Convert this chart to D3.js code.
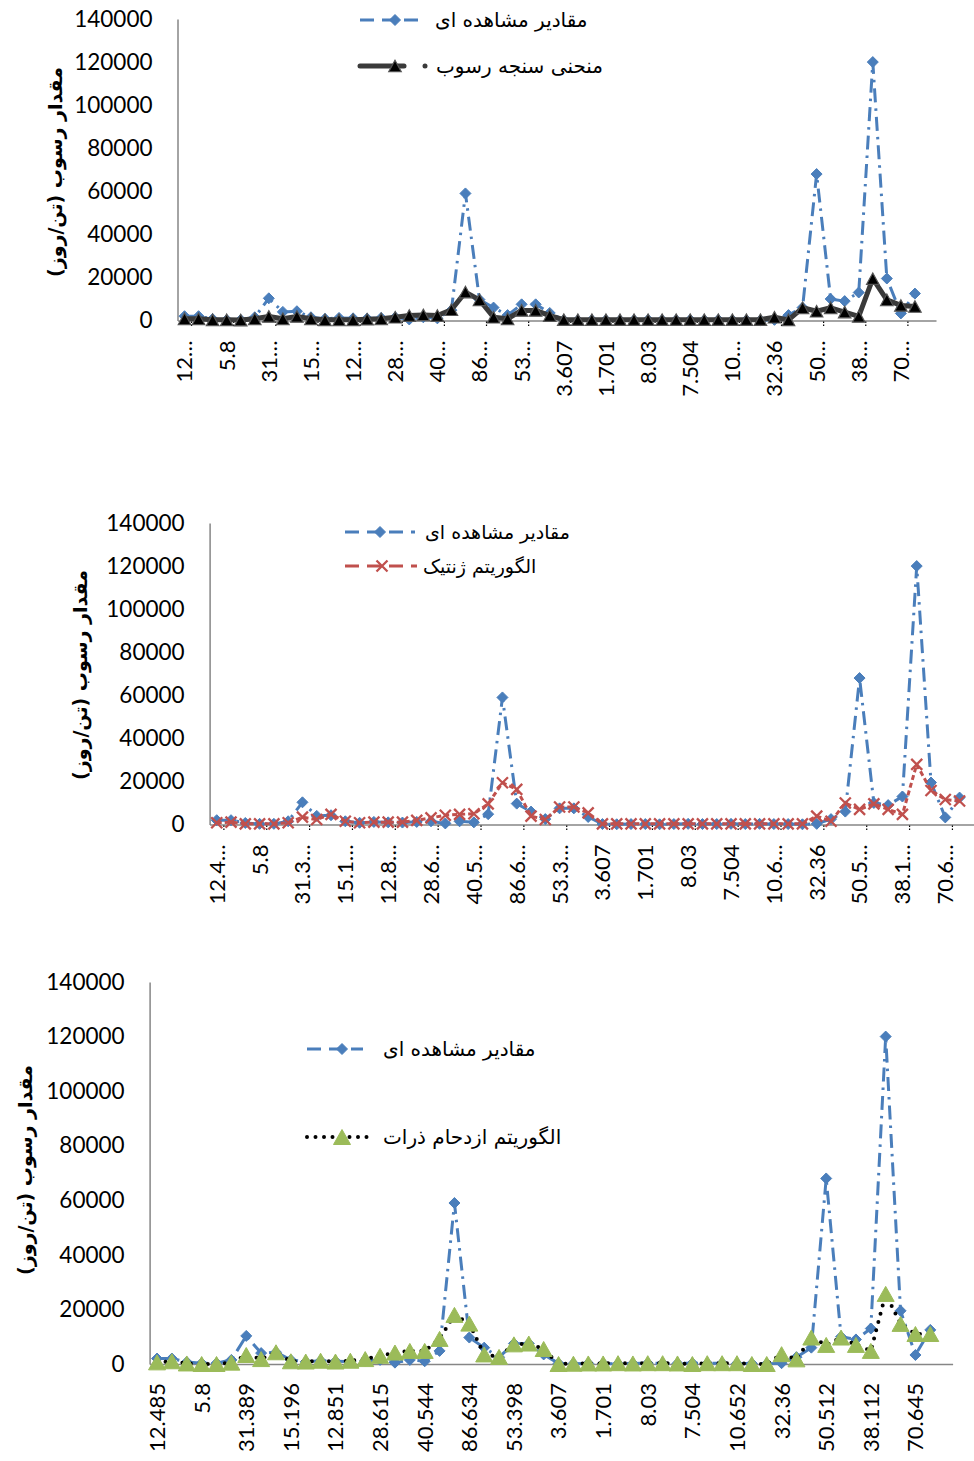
<!DOCTYPE html>
<html>
<head>
<meta charset="utf-8">
<script src="https://cdn.jsdelivr.net/npm/d3@7"></script>
<style>
  body { margin: 0; background: #fff; }
  svg { display: block; }
</style>
</head>
<body>
<svg id="chart"></svg>
<script>
// category labels shown on the x axis (one every 3 categories)
const tickLabels = ["12.485", "5.8", "31.389", "15.196", "12.851", "28.615", "40.544", "86.634", "53.398",
    "3.607", "1.701", "8.03", "7.504", "10.652", "32.36", "50.512", "38.112", "70.645"];
// the same labels as excel truncated them in the two narrower charts
const tickLabelsTop = ["12…", "5.8", "31…", "15…", "12…", "28…", "40…", "86…", "53…",
    "3.607", "1.701", "8.03", "7.504", "10…", "32.36", "50…", "38…", "70…"];
const tickLabelsMid = ["12.4…", "5.8", "31.3…", "15.1…", "12.8…", "28.6…", "40.5…", "86.6…", "53.3…",
    "3.607", "1.701", "8.03", "7.504", "10.6…", "32.36", "50.5…", "38.1…", "70.6…"];
const labelEvery = 3;
const categoryCount = 54;
const yTicks = [0, 20000, 40000, 60000, 80000, 100000, 120000, 140000];

// observed sediment load (same in all three charts)
const observed = [2000, 2000, 700, 300, 300, 1500, 10300, 4000, 4300, 1500,
    800, 1200, 1000, 900, 1200, 1500, 500, 1500, 1000, 4800,
    59000, 9700, 6000, 2500, 7500, 7500, 3500, 200, 100, 200,
    200, 100, 200, 300, 200, 200, 300, 200, 300, 200,
    200, 100, 300, 2500, 6000, 68000, 10000, 9000, 13000, 120000,
    19500, 3300, 12500];

// sediment rating curve
const rating = [800, 800, 300, 300, 200, 800, 1900, 800, 1900, 800,
    300, 300, 300, 600, 800, 1500, 2300, 2600, 2300, 5000,
    13200, 9600, 1500, 800, 4700, 4700, 2300, 400, 400, 400,
    400, 400, 400, 400, 400, 400, 400, 400, 400, 400,
    400, 400, 1500, 300, 5900, 4300, 5900, 3900, 1900, 19400,
    9600, 7000, 6500];

// genetic algorithm
const genetic = [800, 1100, 300, 300, 300, 800, 3400, 2300, 4700, 1500,
    800, 1100, 1100, 1100, 1900, 3100, 4300, 4700, 5000, 9600,
    19400, 16300, 3900, 2300, 8100, 8100, 5400, 300, 300, 300,
    300, 300, 300, 300, 300, 300, 300, 300, 300, 300,
    300, 300, 3900, 1500, 10000, 7000, 9600, 7000, 4700, 27900,
    15800, 11600, 10900];

// particle swarm
const pso = [600, 1000, 200, 0, 0, 500, 3300, 1800, 4300, 1000,
    900, 1200, 900, 1200, 1800, 3000, 4200, 4800, 4800, 9200,
    18000, 14800, 3500, 2600, 7200, 7500, 5500, 0, 100, 200,
    200, 300, 200, 300, 300, 200, 0, 300, 300, 300,
    0, 0, 3600, 1700, 9700, 7000, 9700, 7000, 4800, 25700,
    14700, 11000, 11000];

const nameObserved = "مقادیر مشاهده ای";
const nameRating = "منحنی سنجه رسوب";
const nameGenetic = "الگوریتم ژنتیک";
const namePso = "الگوریتم ازدحام ذرات";
const yTitle = "مقدار رسوب (تن/روز)";

const W = 974, H = 1461;
const svg = d3.select("#chart").attr("width", W).attr("height", H);

const numFont = "Lato, 'Liberation Sans', sans-serif";
const faFont = "'DejaVu Sans', sans-serif";

// marker shapes
const diamond = r => `M0,${-r}L${r},0L0,${r}L${-r},0Z`;
const triangle = (w, h) => `M0,${-h / 2}L${w / 2},${h / 2}L${-w / 2},${h / 2}Z`;
const cross = r => `M${-r},${-r}L${r},${r}M${-r},${r}L${r},${-r}`;

const styleObserved = {
    color: "#4a7ebb", width: 3, dash: "14 6 2.5 6", cap: "butt",
    marker: diamond(5.5), mFill: "#4a7ebb", mStroke: "#4a7ebb", mWidth: 1
};
const styleRating = {
    color: "#3a3a3a", width: 5, dash: null, cap: "round",
    marker: triangle(12.5, 11.5), mFill: "#000", mStroke: "#555", mWidth: 1.2
};
const styleGenetic = {
    color: "#c0504d", width: 3, dash: "5 3", cap: "butt",
    marker: cross(5.5), mFill: "none", mStroke: "#c0504d", mWidth: 2.3
};
const stylePso = {
    color: "#000", width: 4, dash: "0 8.5", cap: "round",
    marker: triangle(17, 15), mFill: "#9bbb59", mStroke: "#9bbb59", mWidth: 1
};

const panels = [
    {
        left: 177.5, right: 936, top: 19, bottom: 320.5, labels: tickLabelsTop, ticks: true,
        titleX: 55, titleY: 172, xPad: 20, legendSize: 20,
        series: [{ values: observed, style: styleObserved }, { values: rating, style: styleRating }],
        legend: [
            { name: nameObserved, style: styleObserved, x0: 360, x1: 418, xm: 395, y: 20, tx: 435 },
            { name: nameRating, style: styleRating, x0: 360, x1: 404, xm: 395, y: 66, tx: 436, dot: 425 }
        ]
    },
    {
        left: 209.6, right: 981, top: 523, bottom: 824.5, labels: tickLabelsMid, ticks: true,
        titleX: 80, titleY: 675, xPad: 20, legendSize: 19,
        series: [{ values: observed, style: styleObserved }, { values: genetic, style: styleGenetic }],
        legend: [
            { name: nameObserved, style: styleObserved, x0: 345, x1: 415, xm: 380, y: 532, tx: 425 },
            { name: nameGenetic, style: styleGenetic, x0: 345, x1: 417, xm: 382, y: 566, tx: 423 }
        ]
    },
    {
        left: 149.6, right: 952.6, top: 982, bottom: 1364, labels: tickLabels, ticks: false,
        titleX: 25, titleY: 1170, xPad: 19, legendSize: 20,
        series: [{ values: observed, style: styleObserved }, { values: pso, style: stylePso }],
        legend: [
            { name: nameObserved, style: styleObserved, x0: 307, x1: 363, xm: 342, y: 1049, tx: 383 },
            { name: namePso, style: stylePso, x0: 307, x1: 370, xm: 342, y: 1137, tx: 383 }
        ]
    }
];

panels.forEach(drawPanel);

function drawPanel(cfg) {
    const g = svg.append("g");

    const x = d3.scaleBand().domain(d3.range(categoryCount)).range([cfg.left, cfg.right]);
    const cx = i => x(i) + x.bandwidth() / 2;
    const y = d3.scaleLinear().domain([0, 140000]).range([cfg.bottom, cfg.top]);

    // y axis
    const yAxis = g.append("g")
        .attr("transform", `translate(${cfg.left},0)`)
        .call(d3.axisLeft(y).tickValues(yTicks).tickSize(0).tickPadding(25).tickFormat(d3.format("d")));
    yAxis.select(".domain").attr("stroke", "#868686").attr("stroke-width", 1.5);
    yAxis.selectAll("text")
        .attr("font-family", numFont).attr("font-size", 22.5).attr("fill", "#000");

    // x axis, labels every 3rd category, written upward
    const labelIdx = d3.range(tickLabels.length).map(k => k * labelEvery);
    const xAxis = g.append("g")
        .attr("transform", `translate(0,${cfg.bottom})`)
        .call(d3.axisBottom(x).tickValues(labelIdx).tickSize(0).tickSizeOuter(0)
            .tickFormat((d, k) => cfg.labels[k]));
    xAxis.select(".domain").attr("stroke", "#868686").attr("stroke-width", 1.5);
    xAxis.selectAll("text")
        .attr("font-family", numFont).attr("font-size", 22).attr("fill", "#000")
        .attr("transform", "rotate(-90)")
        .attr("text-anchor", "end")
        .attr("x", -cfg.xPad).attr("y", 0).attr("dy", "0.36em");

    if (cfg.ticks) {
        g.append("g").selectAll("line")
            .data(labelIdx)
            .join("line")
            .attr("x1", d => x(d + 1)).attr("x2", d => x(d + 1))
            .attr("y1", cfg.bottom + 1).attr("y2", cfg.bottom + 7)
            .attr("stroke", "#000").attr("stroke-width", 1.2)
            .attr("stroke-dasharray", "1.5 1.5");
    }

    // y title
    g.append("text")
        .attr("transform", `translate(${cfg.titleX},${cfg.titleY}) rotate(-90)`)
        .attr("text-anchor", "middle")
        .attr("direction", "rtl")
        .attr("dy", "0.35em")
        .attr("font-family", faFont).attr("font-weight", "bold").attr("font-size", 19)
        .text(yTitle);

    // series
    const line = d3.line()
        .defined(d => d != null)
        .x((d, i) => cx(i))
        .y(d => y(d));

    cfg.series.forEach(s => {
        const st = s.style;
        g.append("path")
            .datum(s.values)
            .attr("d", line)
            .attr("fill", "none")
            .attr("stroke", st.color)
            .attr("stroke-width", st.width)
            .attr("stroke-linecap", st.cap)
            .attr("stroke-linejoin", "round")
            .attr("stroke-dasharray", st.dash);
        g.append("g").selectAll("path")
            .data(s.values.map((v, i) => ({ v, i })).filter(d => d.v != null))
            .join("path")
            .attr("transform", d => `translate(${cx(d.i)},${y(d.v)})`)
            .attr("d", st.marker)
            .attr("fill", st.mFill)
            .attr("stroke", st.mStroke)
            .attr("stroke-width", st.mWidth);
    });

    // legend
    cfg.legend.forEach(l => {
        const st = l.style;
        g.append("line")
            .attr("x1", l.x0).attr("x2", l.x1).attr("y1", l.y).attr("y2", l.y)
            .attr("stroke", st.color).attr("stroke-width", st.width)
            .attr("stroke-linecap", st.cap)
            .attr("stroke-dasharray", st.dash ? (st.cap === "round" ? st.dash : "14 8") : null);
        g.append("path")
            .attr("transform", `translate(${l.xm},${l.y})`)
            .attr("d", st.marker)
            .attr("fill", st.mFill).attr("stroke", st.mStroke).attr("stroke-width", st.mWidth);
        if (l.dot) {
            g.append("circle").attr("cx", l.dot).attr("cy", l.y).attr("r", 2.5).attr("fill", "#3a3a3a");
        }
        g.append("text")
            .attr("x", l.tx).attr("y", l.y).attr("dy", "0.35em")
            .attr("font-family", faFont).attr("font-size", cfg.legendSize)
            .text(l.name);
    });
}
</script>
</body>
</html>
